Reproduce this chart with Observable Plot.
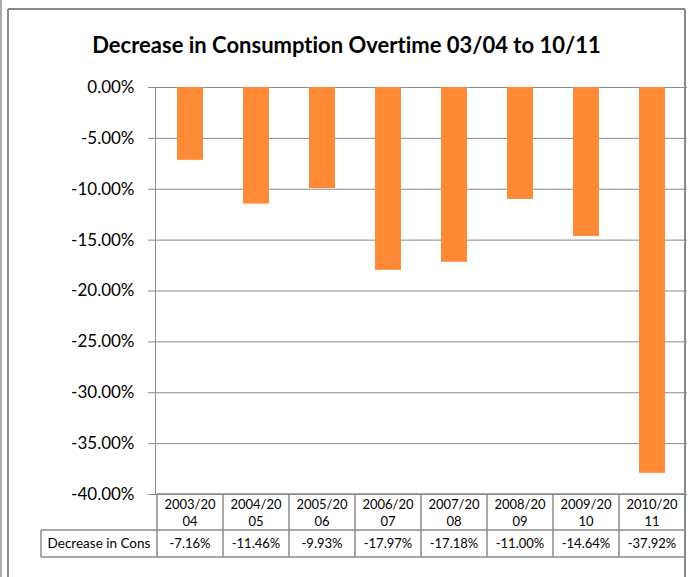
<!DOCTYPE html>
<html>
<head>
<meta charset="utf-8">
<script src="https://cdn.jsdelivr.net/npm/d3@7"></script>
<script src="https://cdn.jsdelivr.net/npm/@observablehq/plot@0.6"></script>
<style>
  html, body { margin: 0; padding: 0; background: #fff; }
  #chart { position: relative; width: 694px; height: 577px; overflow: hidden; }
  svg { font-family: Lato, "Liberation Sans", sans-serif; font-variant-ligatures: none; }
</style>
</head>
<body>
<div id="chart"></div>
<script>
const title = "Decrease in Consumption Overtime 03/04 to 10/11";
const categories = ["2003/2004", "2004/2005", "2005/2006", "2006/2007", "2007/2008", "2008/2009", "2009/2010", "2010/2011"];
const headerLine1 = ["2003/20", "2004/20", "2005/20", "2006/20", "2007/20", "2008/20", "2009/20", "2010/20"];
const headerLine2 = ["04", "05", "06", "07", "08", "09", "10", "11"];
const values = [-0.0716, -0.1146, -0.0993, -0.1797, -0.1718, -0.1100, -0.1464, -0.3792];
const seriesName = "Decrease in Cons";
const yTicks = [0, -0.05, -0.10, -0.15, -0.20, -0.25, -0.30, -0.35, -0.40];

const data = categories.map((c, i) => ({category: c, value: values[i]}));
const pct = d => (d * 100).toFixed(2).replace("-0.00", "0.00") + "%";

const gray = "#8a8a8a";
const orange = "#FE8A38";

const plot = Plot.plot({
  width: 694,
  height: 577,
  marginLeft: 155,
  marginRight: 7,
  marginTop: 87,
  marginBottom: 83,
  style: {fontFamily: "Lato, 'Liberation Sans', sans-serif", background: "#fff", color: "#000"},
  x: {domain: categories, paddingInner: 0.6, paddingOuter: 0.3, axis: null},
  y: {domain: [-0.40, 0], ticks: yTicks, tickFormat: pct, label: null},
  marks: [
    Plot.gridY(yTicks, {stroke: gray, strokeOpacity: 1, strokeWidth: 1}),
    Plot.barY(data, {x: "category", y1: 0, y2: "value", fill: orange}),
    Plot.axisY(yTicks, {tickFormat: pct, tickSize: 7, tickPadding: 14, fontSize: 17, label: null}),
    Plot.frame({anchor: "left", stroke: gray, strokeOpacity: 1})
  ]
});

document.getElementById("chart").appendChild(plot);

const svg = d3.select(plot);
svg.selectAll('g[aria-label="y-axis tick"]').attr("stroke", gray);
svg.selectAll('g[aria-label="y-axis tick label"]').attr("fill", "#000").attr("stroke", "none");

const x = plot.scale("x");
const y = plot.scale("y");
const step = x.step, bw = x.bandwidth;
const colStart = c => x.apply(c) - (step - bw) / 2;
const plotRight = colStart(categories[categories.length - 1]) + step;
const tableTop = y.apply(-0.40);
const headerH = 36, rowH = 27;
const rowTop = tableTop + headerH, rowBottom = rowTop + rowH;
const labelLeft = 41;
const axisX = colStart(categories[0]);

const g = svg.append("g").attr("stroke", gray).attr("stroke-width", 1.5).attr("fill", "none");
// outer chart border
g.append("line").attr("x1", 8).attr("x2", 8).attr("y1", 9).attr("y2", 577).attr("stroke-width", 2);
g.append("line").attr("x1", 8).attr("x2", plotRight).attr("y1", 9).attr("y2", 9).attr("stroke-width", 2);
g.append("line").attr("x1", plotRight).attr("x2", plotRight).attr("y1", 9).attr("y2", 577).attr("stroke-width", 2);
g.append("line").attr("x1", 1).attr("x2", 1).attr("y1", 0).attr("y2", 577).attr("stroke-width", 2).attr("stroke", "#aaa");

// table grid
categories.forEach(c => {
  const x0 = colStart(c);
  g.append("line").attr("x1", x0).attr("x2", x0).attr("y1", tableTop).attr("y2", rowBottom);
});
g.append("line").attr("x1", plotRight).attr("x2", plotRight).attr("y1", tableTop).attr("y2", rowBottom);
g.append("line").attr("x1", axisX).attr("x2", plotRight).attr("y1", tableTop).attr("y2", tableTop);
g.append("line").attr("x1", labelLeft).attr("x2", plotRight).attr("y1", rowTop).attr("y2", rowTop);
g.append("line").attr("x1", labelLeft).attr("x2", plotRight).attr("y1", rowBottom).attr("y2", rowBottom);
g.append("line").attr("x1", labelLeft).attr("x2", labelLeft).attr("y1", rowTop).attr("y2", rowBottom);

const t = svg.append("g").attr("fill", "#000").attr("font-size", 13).attr("text-anchor", "middle");
categories.forEach((c, i) => {
  const cx = colStart(c) + step / 2;
  t.append("text").attr("x", cx).attr("y", tableTop + 10).attr("dy", "0.35em").text(headerLine1[i]);
  t.append("text").attr("x", cx).attr("y", tableTop + 27).attr("dy", "0.35em").text(headerLine2[i]);
  t.append("text").attr("x", cx).attr("y", rowTop + rowH / 2).attr("dy", "0.35em").text(pct(values[i]));
});
t.append("text").attr("x", (labelLeft + axisX) / 2).attr("y", rowTop + rowH / 2).attr("dy", "0.35em").attr("font-size", 13.5).text(seriesName);

svg.append("text")
  .attr("x", (8 + plotRight) / 2).attr("y", 45).attr("dy", "0.35em")
  .attr("text-anchor", "middle").attr("font-size", 22).attr("font-weight", "bold").attr("fill", "#000")
  .text(title);
</script>
</body>
</html>
